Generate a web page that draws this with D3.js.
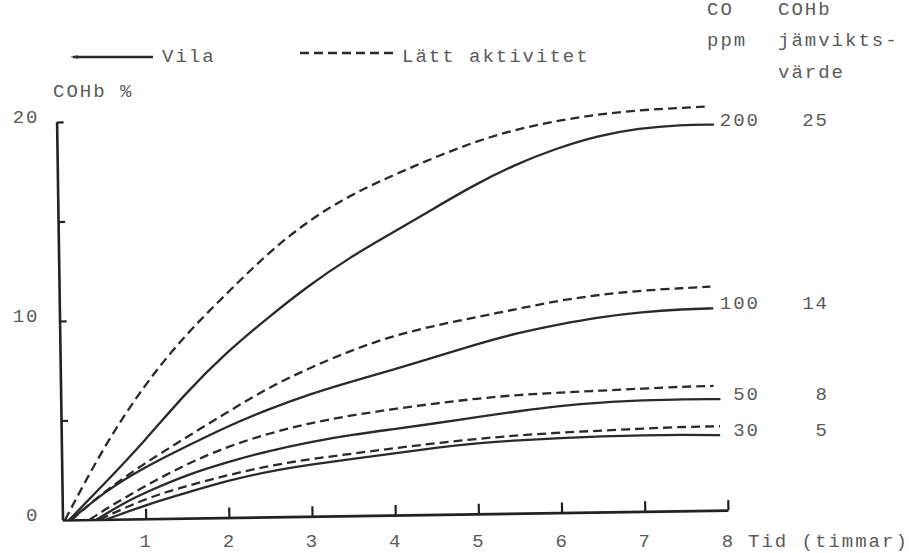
<!DOCTYPE html>
<html><head><meta charset="utf-8">
<script src="https://cdn.jsdelivr.net/npm/d3@7"></script>
<style>
body{margin:0;background:#fff}
svg{display:block;background:#fff}
text{font-family:"Liberation Mono","DejaVu Sans Mono",monospace;font-size:19px;fill:#5a5a5a;letter-spacing:2px}
.axis .domain{stroke:#222;stroke-width:2.6}
.axis .tick line{stroke:#222;stroke-width:2.2}
</style>
</head><body>
<svg id="c" width="909" height="553"></svg>
<script>
// ---- data ----
const xTicks = [1,2,3,4,5,6,7,8];
const xTickLabels = [1,2,3,4,5,6,7,8];
const yTicks = [5,10,15,20];
const yTickLabels = [0,10,20];

const coLevels = ["200","100","50","30"];
const eqValues = ["25","14","8","5"];

// Vila (solid)
const hoursVila200 = [0.08,0.5,1,1.5,2,2.5,3,3.5,4,4.5,5,5.5,6,6.5,7,7.5,7.9];
const cohbVila200  = [0,1.75,3.9,6.28,8.3,10.0,11.6,12.98,14.15,15.33,16.51,17.52,18.3,18.91,19.25,19.4,19.38];
const hoursVila100 = [0.1,0.5,1,1.5,2,2.5,3,3.5,4,4.5,5,5.5,6,6.5,7,7.5,7.86];
const cohbVila100  = [0,1.37,2.6,3.6,4.59,5.42,6.15,6.75,7.3,7.91,8.51,9.06,9.46,9.8,10.02,10.13,10.15];
const hoursVila50  = [0.41,0.75,1,1.5,2,2.5,3,3.5,4,4.5,5,5.5,6,6.5,7,7.5,7.93];
const cohbVila50   = [0,0.83,1.32,2.18,2.8,3.33,3.75,4.07,4.32,4.58,4.86,5.13,5.37,5.51,5.58,5.61,5.58];
const hoursVila30  = [0.53,1,1.5,2,2.5,3,3.5,4,4.5,5,5.5,6,6.5,7,7.5,7.92];
const cohbVila30   = [0,0.69,1.28,1.86,2.3,2.6,2.85,3.1,3.35,3.55,3.67,3.75,3.8,3.83,3.82,3.77];

// Lätt aktivitet (dashed)
const hoursLatt200 = [0.03,0.5,1,1.5,2,2.5,3,3.5,4,4.5,5,5.5,6,6.5,7,7.5,7.84];
const cohbLatt200  = [0,3.6,6.69,9.18,11.2,13.2,14.84,16.07,17.02,17.88,18.67,19.27,19.68,19.98,20.16,20.25,20.3];
const hoursLatt100 = [0.11,0.5,1,1.5,2,2.5,3,3.5,4,4.5,5,5.5,6,6.5,7,7.5,7.83];
const cohbLatt100  = [0,1.38,2.8,4.05,5.3,6.5,7.46,8.31,9.0,9.48,9.88,10.26,10.66,10.92,11.1,11.19,11.24];
const hoursLatt50  = [0.33,0.5,1,1.5,2,2.5,3,3.5,4,4.5,5,5.5,6,6.5,7,7.5,7.85];
const cohbLatt50   = [0,0.47,1.66,2.72,3.58,4.2,4.7,5.05,5.33,5.58,5.79,5.95,6.03,6.1,6.17,6.24,6.25];
const hoursLatt30  = [0.45,1,1.5,2,2.5,3,3.5,4,4.5,5,5.5,6,6.5,7,7.5,7.92];
const cohbLatt30   = [0,1.03,1.62,2.14,2.58,2.88,3.12,3.36,3.58,3.77,3.92,4.02,4.09,4.16,4.22,4.22];

// ---- drawing ----
const svg = d3.select('#c');
const ox = 62.5, oy = 520, angle = -0.85;
const x = d3.scaleLinear().domain([0,8]).range([ox, ox + 665.5]);
const y = d3.scaleLinear().domain([0,20]).range([oy, oy - 398]);

function toImage(px, py){
  const t = angle * Math.PI / 180;
  return [ox + (px-ox)*Math.cos(t) - (py-oy)*Math.sin(t),
          oy + (px-ox)*Math.sin(t) + (py-oy)*Math.cos(t)];
}

const plot = svg.append('g').attr('transform', `rotate(${angle},${ox},${oy})`);

// axes (rotated like the scanned drawing)
plot.append('g').attr('class','axis').attr('transform', `translate(0,${oy})`)
  .call(d3.axisTop(x).tickValues(xTicks).tickSize(10).tickSizeOuter(0).tickFormat(''));
plot.append('g').attr('class','axis').attr('transform', `translate(${ox},0)`)
  .call(d3.axisRight(y).tickValues(yTicks).tickSize(7).tickSizeOuter(0).tickFormat(''));

// curves
const series = [
  {h: hoursVila200, v: cohbVila200, dashed: false},
  {h: hoursVila100, v: cohbVila100, dashed: false},
  {h: hoursVila50,  v: cohbVila50,  dashed: false},
  {h: hoursVila30,  v: cohbVila30,  dashed: false},
  {h: hoursLatt200, v: cohbLatt200, dashed: true},
  {h: hoursLatt100, v: cohbLatt100, dashed: true},
  {h: hoursLatt50,  v: cohbLatt50,  dashed: true},
  {h: hoursLatt30,  v: cohbLatt30,  dashed: true}
];
const line = d3.line().x(d => x(d[0])).y(d => y(d[1])).curve(d3.curveBasis);
plot.selectAll('path.curve').data(series).join('path')
  .attr('class','curve')
  .attr('d', s => line(s.h.map((hh,i) => [hh, s.v[i]])))
  .attr('fill','none')
  .attr('stroke','#2a2a2a')
  .attr('stroke-width', 2.3)
  .attr('stroke-dasharray', s => s.dashed ? '9,5' : null);

// tick labels (typed, unrotated)
const yl = svg.append('g').attr('transform', `translate(${ox},-6)`)
  .call(d3.axisLeft(y).tickValues(yTickLabels).tickSize(0).tickPadding(23).tickFormat(d3.format('d')));
yl.select('.domain').remove();
const xl = svg.append('g').attr('transform', `translate(0,${oy})`)
  .call(d3.axisBottom(x).tickValues(xTickLabels).tickSize(0).tickPadding(14).tickFormat(d3.format('d')));
xl.select('.domain').remove();

// titles
svg.append('text').attr('x',53).attr('y',97).text('COHb %');
svg.append('text').attr('x',748).attr('y',547).text('Tid (timmar)');

// legend
svg.append('line').attr('x1',73).attr('x2',153).attr('y1',57).attr('y2',57)
  .attr('stroke','#2a2a2a').attr('stroke-width',2.3);
svg.append('path').attr('d','M70,57 L78,55.3 L78,58.7 Z').attr('fill','#2a2a2a');
svg.append('text').attr('x',162).attr('y',62).text('Vila');
svg.append('line').attr('x1',300).attr('x2',398).attr('y1',53).attr('y2',53)
  .attr('stroke','#2a2a2a').attr('stroke-width',2.6).attr('stroke-dasharray','9,5');
svg.append('text').attr('x',402).attr('y',62).text('Lätt aktivitet');

// right-hand column headers
svg.append('text').attr('x',707).attr('y',15).text('CO');
svg.append('text').attr('x',707).attr('y',46).text('ppm');
svg.append('text').attr('x',778).attr('y',15).text('COHb');
svg.append('text').attr('x',778).attr('y',46).text('jämvikts-');
svg.append('text').attr('x',778).attr('y',78).text('värde');

// right-hand labels at the end of each Vila curve
const vilaSeries = series.filter(s => !s.dashed);
vilaSeries.forEach((s, i) => {
  const n = s.h.length - 1;
  const p = toImage(x(s.h[n]), y(s.v[n]));
  svg.append('text').attr('x',760).attr('y',p[1] + 1).attr('text-anchor','end').text(coLevels[i]);
  svg.append('text').attr('x',829).attr('y',p[1] + 1).attr('text-anchor','end').text(eqValues[i]);
});
</script>
</body></html>
